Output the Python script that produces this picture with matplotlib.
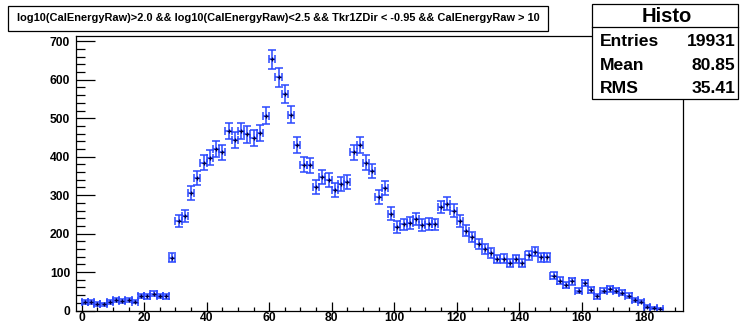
import numpy as np
import matplotlib
matplotlib.use("Agg")
import matplotlib.pyplot as plt
from matplotlib.patches import Rectangle
from matplotlib.ticker import MultipleLocator

plt.rcParams['font.family'] = ['Liberation Sans', 'DejaVu Sans']
plt.rcParams['font.weight'] = 'bold'

# Bin contents, 2-unit bins starting at 0
counts = [22, 22, 17, 16, 22, 28, 24, 28, 23, 38,
          37, 43, 38, 37, 137, 232, 246, 306, 345, 384,
          397, 419, 411, 467, 443, 467, 458, 449, 462, 507,
          653, 607, 562, 509, 430, 379, 378, 321, 347, 339,
          314, 330, 333, 411, 431, 384, 363, 295, 319, 252,
          217, 224, 227, 239, 222, 225, 224, 269, 278, 260,
          233, 208, 191, 172, 160, 149, 134, 135, 123, 134,
          124, 144, 153, 139, 139, 91, 78, 67, 76, 52,
          72, 54, 37, 52, 56, 52, 46, 39, 28, 23,
          10, 7, 5]
bin_width = 2.0
title = "log10(CalEnergyRaw)>2.0 && log10(CalEnergyRaw)<2.5 && Tkr1ZDir < -0.95 && CalEnergyRaw > 10"
stats_name = "Histo"
stats_labels = ["Entries", "Mean", "RMS"]
stats_values = ["19931", "80.85", "35.41"]

counts = np.array(counts, dtype=float)
centers = bin_width * np.arange(len(counts)) + bin_width / 2

W, H = 740, 321
fig = plt.figure(figsize=(W / 100, H / 100), dpi=100)


def fx(px):
    return px / W


def fy(py):
    return 1 - py / H


ax_l, ax_r, ax_t, ax_b = 75.7, 683.0, 35.5, 310.5
ax = fig.add_axes([fx(ax_l), fy(ax_b), fx(ax_r) - fx(ax_l), fy(ax_t) - fy(ax_b)])

ax.errorbar(centers, counts, yerr=np.sqrt(counts), xerr=bin_width / 2,
            fmt='none', ecolor='#2a48ff', elinewidth=1.1,
            capsize=3.0, capthick=1.1)
ax.plot(centers, counts, linestyle='none', marker='+', markersize=3,
        color='#000040', markeredgewidth=0.9)

ax.set_xlim(-1.9, 192.4)
ax.set_ylim(0, 715)

ax.xaxis.set_major_locator(MultipleLocator(20))
ax.xaxis.set_minor_locator(MultipleLocator(5))
ax.yaxis.set_major_locator(MultipleLocator(100))
ax.yaxis.set_minor_locator(MultipleLocator(20))

ax.tick_params(axis='x', which='major', direction='in', length=6.5, width=0.9,
               pad=1.0, labelsize=8.7)
ax.tick_params(axis='x', which='minor', direction='in', length=3.2, width=0.9)
ax.tick_params(axis='y', which='major', direction='in', length=13.7, width=0.9,
               pad=4, labelsize=8.7)
ax.tick_params(axis='y', which='minor', direction='in', length=6.8, width=0.9)
for lab in ax.get_xticklabels() + ax.get_yticklabels():
    lab.set_fontweight('bold')
for sp in ax.spines.values():
    sp.set_linewidth(0.9)

# title box
fig.patches.append(Rectangle((fx(8), fy(30.5)), fx(548) - fx(8), fy(6) - fy(30.5),
                             transform=fig.transFigure, fill=True, facecolor='white',
                             edgecolor='black', linewidth=0.9, zorder=5))
fig.text(fx(278), fy(18), title, ha='center', va='center', fontsize=7.9,
         fontweight='bold', zorder=6)

# statistics box
sb_l, sb_r, sb_t, sb_b, sb_head = 591.7, 737.5, 4.0, 99.3, 27.0
fig.patches.append(Rectangle((fx(sb_l), fy(sb_b)), fx(sb_r) - fx(sb_l), fy(sb_t) - fy(sb_b),
                             transform=fig.transFigure, facecolor='white',
                             edgecolor='black', linewidth=0.9, zorder=5))
fig.lines.append(plt.Line2D([fx(sb_l), fx(sb_r)], [fy(sb_head), fy(sb_head)],
                            transform=fig.transFigure, color='black', linewidth=0.9,
                            zorder=6))
fig.text(fx((sb_l + sb_r) / 2 + 2), fy(16), stats_name, ha='center', va='center',
         fontsize=14.5, fontweight='bold', zorder=6)
for i, (lab, val) in enumerate(zip(stats_labels, stats_values)):
    y = fy(42 + 23.5 * i)
    fig.text(fx(600), y, lab, ha='left', va='center', fontsize=12.6,
             fontweight='bold', zorder=6)
    fig.text(fx(735.5), y, val, ha='right', va='center', fontsize=12.6,
             fontweight='bold', zorder=6)

fig.savefig("out.png", dpi=100)
